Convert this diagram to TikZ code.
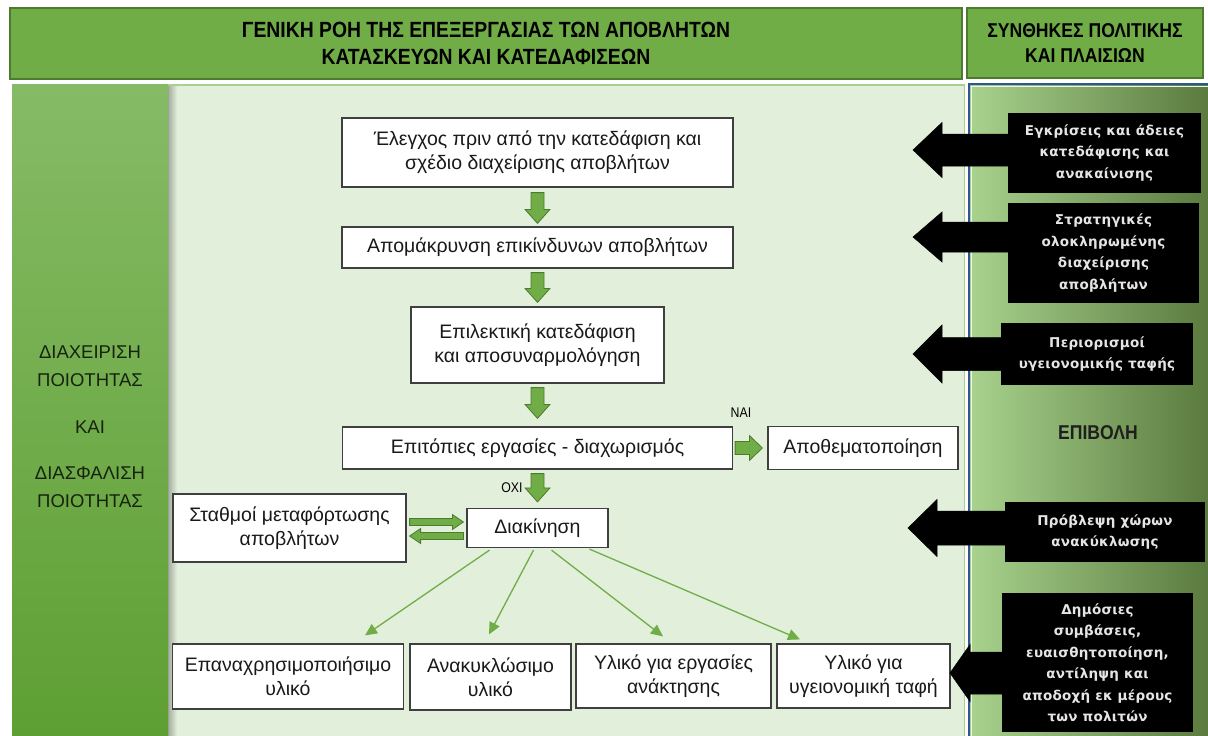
\documentclass[tikz,border=0pt]{standalone}
\usepackage{fontspec}
\setmainfont{Liberation Sans}
\newfontfamily\headfont[FakeStretch=0.88]{Liberation Sans}
\newfontfamily\tagfont[LetterSpace=2]{DejaVu Sans}
\usetikzlibrary{calc,arrows.meta,fadings}

\definecolor{hdrgreen}{HTML}{70AD47}
\definecolor{hdredge}{HTML}{4E7A30}
\definecolor{mainbg}{HTML}{E2EFDA}
\definecolor{mainedge}{HTML}{A9D08E}
\definecolor{colTop}{HTML}{86BB66}
\definecolor{colBot}{HTML}{5E9F33}
\definecolor{panelL}{HTML}{A9D38E}
\definecolor{panelR}{HTML}{5A7A3E}
\definecolor{panelblue}{HTML}{2F5597}
\definecolor{boxedge}{HTML}{3F3F3F}
\definecolor{sidetextcol}{HTML}{17220F}

% block arrow: style, from, to, shaft half width, head half width, head length
\newcommand\blockarrow[6]{%
  \coordinate (headbase) at ($(#3)!#6pt!(#2)$);
  \filldraw[#1] ($(#2)!#4pt!90:(#3)$) -- ($(headbase)!#4pt!90:(#3)$)
    -- ($(headbase)!#5pt!90:(#3)$) -- (#3)
    -- ($(headbase)!#5pt!-90:(#3)$) -- ($(headbase)!#4pt!-90:(#3)$)
    -- ($(#2)!#4pt!-90:(#3)$) -- cycle;}

\begin{document}
\begin{tikzpicture}[x=1pt,y=-1pt,
  hdr/.style={draw=hdredge, line width=2pt, fill=hdrgreen, align=center,
    inner sep=0pt, font=\headfont\bfseries},
  box/.style={draw=boxedge, line width=1.2pt, fill=white, align=center,
    inner sep=2pt, text=black!90, font=\fontsize{19.5}{24}\selectfont},
  tagbox/.style={fill=black, text=white!90!black, align=center, inner sep=0pt,
    font=\tagfont\bfseries\fontsize{13.5}{21.5}\selectfont},
  garrow/.style={fill=hdrgreen, draw=hdredge, line width=0.8pt},
  karrow/.style={fill=black, draw=black, line width=0.5pt},
  fan/.style={draw=hdrgreen, line width=1.3pt, -{Triangle[length=12pt,width=11pt]}},
  lbl/.style={inner sep=0pt, font=\headfont\fontsize{14}{16}\selectfont}]

\useasboundingbox (0,0) rectangle (1208,736);
\fill[white] (0,0) rectangle (1208,736);

% header bars
\node[hdr, minimum width=952pt, minimum height=71pt,
  font=\headfont\bfseries\fontsize{22}{27}\selectfont] (h1) at (486,43.5)
  {ΓΕΝΙΚΗ ΡΟΗ ΤΗΣ ΕΠΕΞΕΡΓΑΣΙΑΣ ΤΩΝ ΑΠΟΒΛΗΤΩΝ\\ΚΑΤΑΣΚΕΥΩΝ ΚΑΙ ΚΑΤΕΔΑΦΙΣΕΩΝ};
\node[hdr, minimum width=236pt, minimum height=70pt,
  font=\headfont\bfseries\fontsize{20}{24.5}\selectfont] (h2) at (1085,43)
  {ΣΥΝΘΗΚΕΣ ΠΟΛΙΤΙΚΗΣ\\ΚΑΙ ΠΛΑΙΣΙΩΝ};

% flow area
\fill[mainbg] (12,84) rectangle (965,736);
\draw[mainedge, line width=1.5pt] (168,84.75) -- (964.25,84.75) -- (964.25,736);

% quality column
\shade[top color=colTop, bottom color=colBot] (12,84) rectangle (168,736);
\fill[black, opacity=0.28, path fading=east] (168,86) rectangle (177,736);
\node[align=center, text=sidetextcol, inner sep=0pt,
  font=\fontsize{18.5}{28}\selectfont] (qa) at (90,427)
  {ΔΙΑΧΕΙΡΙΣΗ\\ΠΟΙΟΤΗΤΑΣ\\[19pt]ΚΑΙ\\[18pt]ΔΙΑΣΦΑΛΙΣΗ\\ΠΟΙΟΤΗΤΑΣ};

% policy panel
\shade[left color=panelL, right color=panelR] (968,83) rectangle (1208,736);
\draw[panelblue, line width=2pt] (969,736) -- (969,84) -- (1208,84);
\draw[white!80!panelL, line width=0.8pt] (971.2,736) -- (971.2,86.2) -- (1208,86.2);
\node[inner sep=0pt, text=black!88, font=\headfont\bfseries\fontsize{20}{24}\selectfont]
  (imp) at (1098,433) {ΕΠΙΒΟΛΗ};

% main flow boxes
\node[box, minimum width=391pt, minimum height=69pt] (b1) at (537.5,152.5)
  {Έλεγχος πριν από την κατεδάφιση και\\σχέδιο διαχείρισης αποβλήτων};
\node[box, minimum width=391pt, minimum height=41pt] (b2) at (537.5,247.5)
  {Απομάκρυνση επικίνδυνων αποβλήτων};
\node[box, minimum width=253pt, minimum height=76pt] (b3) at (537.5,345)
  {Επιλεκτική κατεδάφιση\\και αποσυναρμολόγηση};
\node[box, minimum width=390pt, minimum height=42pt] (b4) at (537.5,448)
  {Επιτόπιες εργασίες - διαχωρισμός};
\node[box, minimum width=190pt, minimum height=43pt] (b5) at (863,448)
  {Αποθεματοποίηση};
\node[box, minimum width=233pt, minimum height=68pt] (b6) at (289.5,528)
  {Σταθμοί μεταφόρτωσης\\αποβλήτων};
\node[box, minimum width=141pt, minimum height=39pt] (b7) at (537.5,528)
  {Διακίνηση};

% material boxes
\node[box, minimum width=231pt, minimum height=65pt] (c1) at (288,676.5)
  {Επαναχρησιμοποιήσιμο\\υλικό};
\node[box, minimum width=161pt, minimum height=66pt] (c2) at (490.5,677)
  {Ανακυκλώσιμο\\υλικό};
\node[box, minimum width=195pt, minimum height=64pt] (c3) at (673.5,676)
  {Υλικό για εργασίες\\ανάκτησης};
\node[box, minimum width=173pt, minimum height=64pt] (c4) at (863.5,676)
  {Υλικό για\\υγειονομική ταφή};

% green block arrows of the main flow
\coordinate (g1s) at ($(b1.south)+(0,5)$);  \coordinate (g1e) at ($(b2.north)+(0,-3)$);
\coordinate (g2s) at ($(b2.south)+(0,4)$);  \coordinate (g2e) at ($(b3.north)+(0,-4)$);
\coordinate (g3s) at ($(b3.south)+(0,4)$);  \coordinate (g3e) at ($(b4.north)+(0,-8)$);
\coordinate (g4s) at ($(b4.south)+(0,4)$);  \coordinate (g4e) at ($(b7.north)+(0,-6)$);
\coordinate (g5s) at ($(b4.east)+(2,0)$);   \coordinate (g5e) at ($(b5.west)+(-5,0)$);
\coordinate (d1s) at ($(b6.east)+(3,-6)$);  \coordinate (d1e) at ($(b7.west)+(-3,-6)$);
\coordinate (d2s) at ($(b7.west)+(-3,8)$);  \coordinate (d2e) at ($(b6.east)+(3,8)$);
\blockarrow{garrow}{g1s}{g1e}{6.5}{12.5}{14}
\blockarrow{garrow}{g2s}{g2e}{6.5}{12.5}{14}
\blockarrow{garrow}{g3s}{g3e}{6.5}{12.5}{14}
\blockarrow{garrow}{g4s}{g4e}{6.5}{12.5}{14}
\blockarrow{garrow}{g5s}{g5e}{6.5}{12.5}{13}
\blockarrow{garrow}{d1s}{d1e}{3.5}{7.5}{11}
\blockarrow{garrow}{d2s}{d2e}{3.5}{7.5}{11}
\node[lbl] (nai) at (741,413) {ΝΑΙ};
\node[lbl] (oxi) at (512,488) {ΟΧΙ};

% distribution to material streams
\draw[fan] ($(b7.south)+(-48,2)$) -- ($(c1.north)+(77,-8)$);
\draw[fan] ($(b7.south)+(-4,2)$)  -- ($(c2.north)+(-1.5,-9)$);
\draw[fan] ($(b7.south)+(14,2)$)  -- ($(c3.north)+(-10.5,-7)$);
\draw[fan] ($(b7.south)+(52,1)$)  -- ($(c4.north)+(-63.5,-4)$);

% policy conditions
\node[tagbox, minimum width=193pt, minimum height=80pt] (k1) at (1104.5,153)
  {Εγκρίσεις και άδειες\\κατεδάφισης και\\ανακαίνισης};
\node[tagbox, minimum width=191pt, minimum height=100pt] (k2) at (1103.5,253)
  {Στρατηγικές\\ολοκληρωμένης\\διαχείρισης\\αποβλήτων};
\node[tagbox, minimum width=192pt, minimum height=62pt] (k3) at (1097,354)
  {Περιορισμοί\\υγειονομικής ταφής};
\node[tagbox, minimum width=200pt, minimum height=60pt] (k4) at (1105,532)
  {Πρόβλεψη χώρων\\ανακύκλωσης};
\node[tagbox, minimum width=191pt, minimum height=139pt] (k5) at (1097.5,662.5)
  {Δημόσιες\\συμβάσεις,\\ευαισθητοποίηση,\\αντίληψη και\\αποδοχή εκ μέρους\\των πολιτών};

\coordinate (t1) at (913,150);  \coordinate (s1) at ($(k1.west |- t1)+(1,0)$);
\coordinate (t2) at (913,237);  \coordinate (s2) at ($(k2.west |- t2)+(1,0)$);
\coordinate (t3) at (913,354);  \coordinate (s3) at ($(k3.west |- t3)+(1,0)$);
\coordinate (t4) at (908,528);  \coordinate (s4) at ($(k4.west |- t4)+(1,0)$);
\coordinate (t5) at (950,673);  \coordinate (s5) at ($(k5.west |- t5)+(1,0)$);
\blockarrow{karrow}{s1}{t1}{16}{27.5}{29}
\blockarrow{karrow}{s2}{t2}{15}{25}{29}
\blockarrow{karrow}{s3}{t3}{16.5}{29}{29}
\blockarrow{karrow}{s4}{t4}{17}{28.5}{29}
\blockarrow{karrow}{s5}{t5}{21}{28.5}{20}
\end{tikzpicture}
\end{document}
